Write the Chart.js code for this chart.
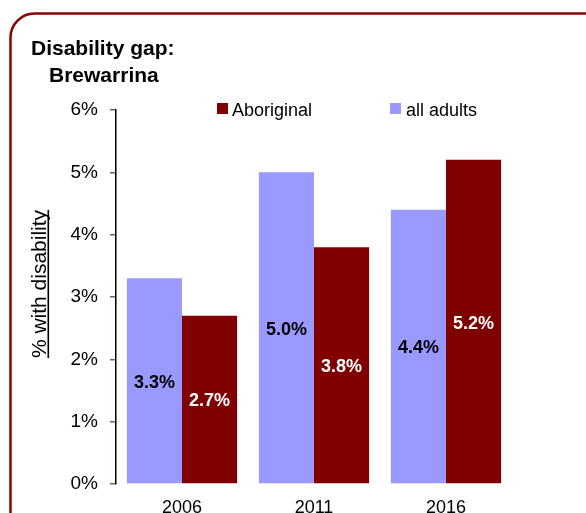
<!DOCTYPE html>
<html><head><meta charset="utf-8">
<script src="https://cdn.jsdelivr.net/npm/chart.js@4"></script>
<style>html,body{margin:0;padding:0;background:#fff;overflow:hidden}#wrap{width:586px;height:513px;position:relative}</style>
</head><body><div id="wrap"><canvas id="c" width="586" height="513"></canvas></div>
<script>
const categories = ['2006', '2011', '2016'];
const allAdults = [3.3, 5.0, 4.4];
const aboriginal = [2.7, 3.8, 5.2];
const yTicks = [0, 1, 2, 3, 4, 5, 6];
const titleLines = ['Disability gap:', 'Brewarrina'];
const yTitle = '% with disability';

const FONT = '"Liberation Sans", Arial, sans-serif';
const PURPLE = '#9999FF';
const RED = '#800000';

const decor = {
  id: 'decor',
  beforeDraw(chart) {
    const ctx = chart.ctx;
    ctx.save();
    ctx.fillStyle = '#fff';
    ctx.fillRect(0, 0, chart.width, chart.height);
    ctx.strokeStyle = '#8B0000';
    ctx.lineWidth = 2.5;
    const x = 10.5, y = 13.5, r = 24, w = 620, h = 540;
    ctx.beginPath();
    ctx.moveTo(x + w, y);
    ctx.lineTo(x + r, y);
    ctx.arcTo(x, y, x, y + r, r);
    ctx.lineTo(x, y + h);
    ctx.stroke();
    ctx.restore();
  },
  afterDraw(chart) {
    const ctx = chart.ctx;
    ctx.save();
    ctx.fillStyle = '#000';
    ctx.font = 'bold 21px ' + FONT;
    ctx.textBaseline = 'alphabetic';
    ctx.textAlign = 'left';
    ctx.fillText(titleLines[0], 31, 55);
    ctx.fillText(titleLines[1], 49, 82);
    // legend
    ctx.font = '18px ' + FONT;
    ctx.textBaseline = 'alphabetic';
    const lb = 116;
    ctx.fillStyle = RED;
    ctx.fillRect(217, 103, 11, 11);
    ctx.fillStyle = '#000';
    ctx.fillText(chart.data.datasets[1].label, 232, lb);
    ctx.fillStyle = PURPLE;
    ctx.fillRect(390, 103, 11, 11);
    ctx.fillStyle = '#000';
    ctx.fillText(chart.data.datasets[0].label, 406, lb);
    // y axis title with underline
    ctx.save();
    ctx.translate(46, 284);
    ctx.rotate(-Math.PI / 2);
    ctx.font = '21px ' + FONT;
    ctx.textAlign = 'center';
    ctx.textBaseline = 'alphabetic';
    ctx.fillText(yTitle, 0, 0);
    const tw = ctx.measureText(yTitle).width;
    ctx.fillRect(-tw / 2, 1.5, tw, 1.6);
    ctx.restore();
    ctx.restore();
  },
  afterDatasetsDraw(chart) {
    const ctx = chart.ctx;
    ctx.save();
    ctx.font = 'bold 18px ' + FONT;
    ctx.textAlign = 'center';
    ctx.textBaseline = 'middle';
    chart.data.datasets.forEach((ds, di) => {
      const meta = chart.getDatasetMeta(di);
      meta.data.forEach((bar, i) => {
        const v = ds.data[i];
        const mid = (bar.y + bar.base) / 2 + 2;
        ctx.fillStyle = di === 0 ? '#000' : '#fff';
        ctx.fillText(v.toFixed(1) + '%', bar.x, mid);
      });
    });
    ctx.restore();
  }
};

new Chart(document.getElementById('c'), {
  type: 'bar',
  data: {
    labels: categories,
    datasets: [
      { label: 'all adults', data: allAdults, backgroundColor: PURPLE, barPercentage: 1.0, categoryPercentage: 0.835 },
      { label: 'Aboriginal', data: aboriginal, backgroundColor: RED, barPercentage: 1.0, categoryPercentage: 0.835 }
    ]
  },
  options: {
    responsive: false,
    animation: false,
    devicePixelRatio: 1,
    layout: { padding: { left: 0, top: 110, right: 74, bottom: 0 } },
    plugins: { legend: { display: false }, title: { display: false }, tooltip: { enabled: false } },
    scales: {
      x: {
        grid: { display: false },
        border: { display: false },
        ticks: { color: '#000', font: { family: FONT, size: 18 }, padding: 5 },
        afterFit(s) { s.height = 29; }
      },
      y: {
        min: 0, max: 6,
        afterBuildTicks(s) { s.ticks = yTicks.map(v => ({ value: v })); },
        grid: { drawOnChartArea: false, tickLength: 6, color: '#666', lineWidth: 1.5 },
        border: { display: true, color: '#000', width: 1.5 },
        ticks: { color: '#000', font: { family: FONT, size: 19 }, padding: 12, callback: v => v + '%' },
        afterFit(s) { s.width = 116; }
      }
    }
  },
  plugins: [decor]
});
</script></body></html>
